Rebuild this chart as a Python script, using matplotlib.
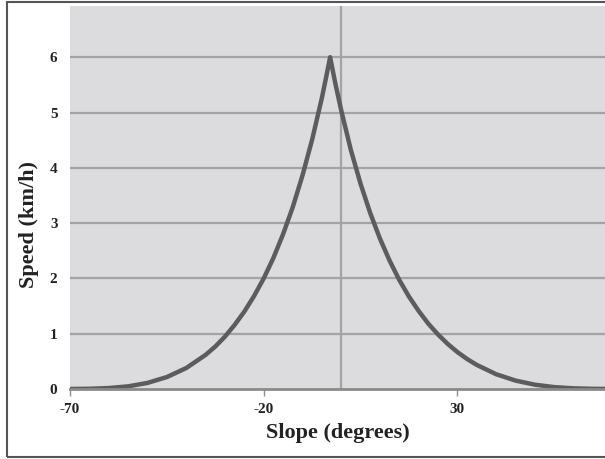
import matplotlib
matplotlib.use("Agg")
import matplotlib.pyplot as plt
from matplotlib.patches import Rectangle

plt.rcParams["axes.unicode_minus"] = False

# Walking speed vs slope
slope_deg = [-70, -65, -60, -55, -50, -45, -40, -35, -32.5, -30, -27.5, -25, -22.5, -20,
             -17.5, -15, -12.5, -10, -7.5, -5, -4, -2.86, -1.5, 0, 2.5, 5, 7.5, 10,
             12.5, 15, 17.5, 20, 22.5, 25, 27.5, 30, 32.5, 35, 40, 45, 50, 55, 60, 65, 70]
speed_kmh = [0.0005, 0.004, 0.017, 0.048, 0.11, 0.216, 0.379, 0.617, 0.768, 0.948, 1.16, 1.40, 1.68, 2.00,
             2.37, 2.80, 3.29, 3.86, 4.51, 5.26, 5.60, 6.00, 5.52, 5.04, 4.32, 3.71, 3.18, 2.72,
             2.32, 1.97, 1.67, 1.41, 1.18, 0.985, 0.814, 0.667, 0.542, 0.435, 0.267, 0.152, 0.078, 0.034, 0.012, 0.003, 0.0003]

x_ticks = [-70, -20, 30]
y_ticks = [0, 1, 2, 3, 4, 5, 6]

serif = "Liberation Serif"

fig = plt.figure(figsize=(6.05, 4.59), dpi=100)
ax = fig.add_axes([70 / 605, 1 - 389 / 459, 1 - 70 / 605, (389 - 6) / 459])
ax.set_facecolor("#dcdcde")

# outer frame of the figure
fig.patches.append(Rectangle((7 / 605, 2 / 459), 2, 455 / 459, transform=fig.transFigure,
                             fill=False, edgecolor="#555555", linewidth=1.5))

ax.set_xlim(-70, (605 - 341.5) / 3.87)
ax.set_ylim(0, (389 - 6) / 55.3)

for v in y_ticks[1:]:
    ax.axhline(v, color="#a3a3a6", linewidth=1.6, zorder=1)
ax.axvline(0, color="#a3a3a6", linewidth=1.6, zorder=1)

ax.plot(slope_deg, speed_kmh, color="#5c5c5e", linewidth=3.2, zorder=3,
        solid_joinstyle="round")

for s in ["top", "right", "left"]:
    ax.spines[s].set_visible(False)
ax.spines["bottom"].set_color("#8a8a8a")
ax.spines["bottom"].set_linewidth(2)
ax.spines["bottom"].set_zorder(4)

ax.set_xticks(x_ticks)
ax.set_yticks(y_ticks)
ax.tick_params(axis="x", length=5, width=1, color="#909090", pad=5)
ax.tick_params(axis="y", length=0, pad=9)
for lab in ax.get_xticklabels() + ax.get_yticklabels():
    lab.set_fontfamily(serif)
    lab.set_fontweight("bold")
    lab.set_fontsize(11)
    lab.set_color("#222222")

ax.set_xlabel("Slope (degrees)", fontfamily=serif, fontweight="bold", fontsize=16,
              color="#222222", labelpad=5)
ax.set_ylabel("Speed (km/h)", fontfamily=serif, fontweight="bold", fontsize=16,
              color="#222222")
ax.yaxis.set_label_coords(-0.058, 0.43)

fig.savefig("out.png", dpi=100)
